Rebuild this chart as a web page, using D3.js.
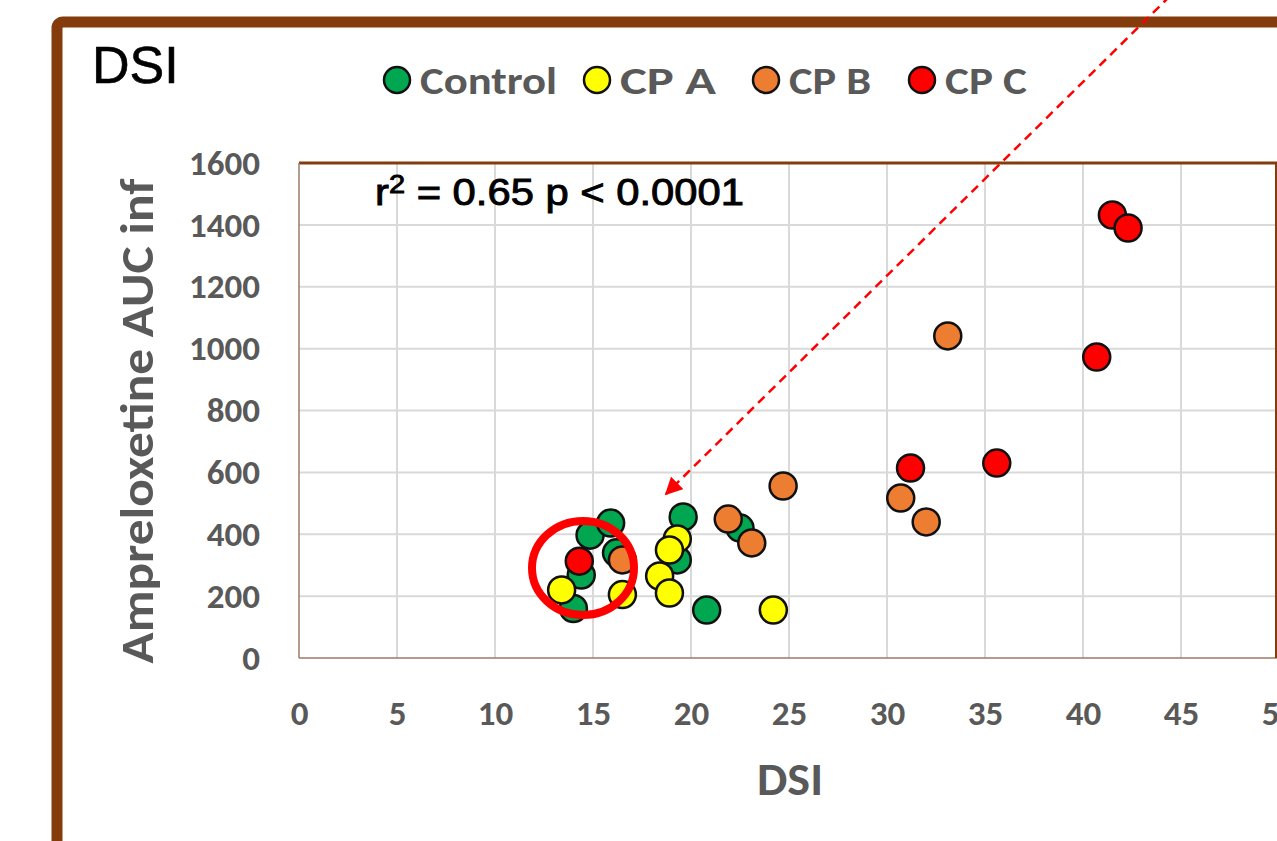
<!DOCTYPE html>
<html>
<head>
<meta charset="utf-8">
<script src="https://cdn.jsdelivr.net/npm/d3@7"></script>
<style>
  body { margin: 0; background: #fff; overflow: hidden; }
  .lab { font-family: Carlito, Calibri, Lato, "Open Sans", sans-serif; font-weight: bold; fill: #595959; }
</style>
</head>
<body>
<svg id="chart" width="1277" height="841"></svg>
<script>
// DSI vs Ampreloxetine AUC inf scatter, four groups

const groups = ['Control', 'CP A', 'CP B', 'CP C'];
const groupColors = ['#00A650', '#FFFF00', '#ED7D31', '#FF0000'];

// [DSI, AUC] pairs
const controlPts = [[14.0, 160], [14.4, 268], [14.85, 397], [15.9, 436], [16.2, 340],
  [19.6, 456], [19.3, 317], [20.8, 155], [22.5, 420]];
const cpAPts = [[13.4, 220], [16.5, 205], [19.3, 385], [18.9, 349], [18.4, 265],
  [18.9, 210], [24.2, 155]];
const cpBPts = [[16.5, 317], [21.9, 449], [23.1, 372], [24.7, 556], [33.1, 1041],
  [30.7, 517], [32.0, 440]];
const cpCPts = [[14.3, 313], [31.2, 614], [35.6, 630], [40.7, 973], [41.5, 1432], [42.3, 1390]];

const xTicks = [0, 5, 10, 15, 20, 25, 30, 35, 40, 45, 50];
const yTicks = [0, 200, 400, 600, 800, 1000, 1200, 1400, 1600];

const svg = d3.select('#chart');
const brown = '#843C0C';

const x = d3.scaleLinear().domain([0, 50]).range([299, 1279]);
const y = d3.scaleLinear().domain([0, 1600]).range([658, 163]);

// outer frame
svg.append('rect')
  .attr('x', 57).attr('y', 22)
  .attr('width', 1300).attr('height', 900)
  .attr('rx', 6)
  .attr('fill', 'none')
  .attr('stroke', brown)
  .attr('stroke-width', 11);

svg.append('text')
  .attr('x', 92).attr('y', 83)
  .style('font-family', 'Liberation Sans, Arial, sans-serif')
  .style('font-size', '52px')
  .attr('stroke', '#000').attr('stroke-width', 0.6)
  .text('DSI');

// gridlines
const grid = svg.append('g');
grid.selectAll('.vx').data(xTicks.slice(1)).enter().append('line')
  .attr('x1', d => x(d)).attr('x2', d => x(d))
  .attr('y1', y(0)).attr('y2', y(1600))
  .attr('stroke', '#D9D9D9').attr('stroke-width', 2);
grid.selectAll('.hy').data(yTicks.slice(1)).enter().append('line')
  .attr('x1', x(0)).attr('x2', x(50))
  .attr('y1', d => y(d)).attr('y2', d => y(d))
  .attr('stroke', '#D9D9D9').attr('stroke-width', 2);

// plot area border
svg.append('line').attr('x1', x(0)).attr('x2', x(50)).attr('y1', y(1600)).attr('y2', y(1600))
  .attr('stroke', brown).attr('stroke-width', 3);
svg.append('line').attr('x1', x(0)).attr('x2', x(0)).attr('y1', y(1600)).attr('y2', y(0))
  .attr('stroke', '#9C7A64').attr('stroke-width', 1.5);
svg.append('line').attr('x1', x(0)).attr('x2', x(50)).attr('y1', y(0)).attr('y2', y(0))
  .attr('stroke', '#9C7A64').attr('stroke-width', 1.5);
svg.append('line').attr('x1', 1276).attr('x2', 1276).attr('y1', y(1600)).attr('y2', y(0))
  .attr('stroke', brown).attr('stroke-width', 2);

// axes
const xAxis = svg.append('g')
  .attr('transform', `translate(0,${y(0) + 55})`)
  .call(d3.axisBottom(x).tickValues(xTicks).tickFormat(d3.format('d')).tickSize(0).tickPadding(0));
xAxis.select('.domain').remove();
xAxis.selectAll('text').attr('class', 'lab').style('font-size', '35px').attr('dy', '0.35em');

const yAxis = svg.append('g')
  .attr('transform', `translate(${x(0) - 39},0)`)
  .call(d3.axisLeft(y).tickValues(yTicks).tickFormat(d3.format('d')).tickSize(0).tickPadding(0));
yAxis.select('.domain').remove();
yAxis.selectAll('text').attr('class', 'lab').style('font-size', '35px');

svg.append('text').attr('class', 'lab')
  .attr('x', 790).attr('y', 795)
  .attr('text-anchor', 'middle')
  .style('font-size', '46px')
  .attr('textLength', 66).attr('lengthAdjust', 'spacingAndGlyphs')
  .text('DSI');

svg.append('text').attr('class', 'lab')
  .attr('transform', 'translate(153,421) rotate(-90)')
  .attr('text-anchor', 'middle')
  .style('font-size', '46px')
  .attr('textLength', 485).attr('lengthAdjust', 'spacingAndGlyphs')
  .text('Ampreloxetine AUC inf');

// legend
const legendX = [397, 597, 766, 922];
const legendW = [137, 96, 82, 82];
const legend = svg.append('g');
groups.forEach((g, i) => {
  legend.append('circle')
    .attr('cx', legendX[i]).attr('cy', 80).attr('r', 13)
    .attr('fill', groupColors[i]).attr('stroke', '#111').attr('stroke-width', 2.5);
  legend.append('text').attr('class', 'lab')
    .attr('x', legendX[i] + 23).attr('y', 94)
    .style('font-size', '39px')
    .attr('textLength', legendW[i]).attr('lengthAdjust', 'spacingAndGlyphs')
    .text(g);
});

// r² annotation (stretched a little sideways like the original)
const r2 = svg.append('text')
  .attr('transform', 'translate(375,205) scale(1.16,1)')
  .style('font-family', 'Liberation Sans, Arial, sans-serif')
  .style('font-size', '36px')
  .attr('stroke', '#000').attr('stroke-width', 0.9);
r2.append('tspan').text('r');
r2.append('tspan').attr('dy', -12).style('font-size', '25px').text('2');
r2.append('tspan').attr('dy', 12).text(' = 0.65 p < 0.0001');

// points
const series = [controlPts, cpAPts, cpBPts, cpCPts];
series.forEach((pts, i) => {
  svg.append('g').selectAll('circle').data(pts).enter().append('circle')
    .attr('cx', d => x(d[0]))
    .attr('cy', d => y(d[1]))
    .attr('r', 13.5)
    .attr('fill', groupColors[i])
    .attr('stroke', '#111')
    .attr('stroke-width', 2.5);
});

// highlight ring
svg.append('ellipse')
  .attr('cx', 583).attr('cy', 568)
  .attr('rx', 51).attr('ry', 47)
  .attr('fill', 'none')
  .attr('stroke', '#FF0000')
  .attr('stroke-width', 8);

// dashed arrow
svg.append('defs').append('marker')
  .attr('id', 'ah')
  .attr('viewBox', '0 0 10 10')
  .attr('refX', 9).attr('refY', 5)
  .attr('markerWidth', 7).attr('markerHeight', 7)
  .attr('orient', 'auto')
  .append('path').attr('d', 'M0,0L10,5L0,10Z').attr('fill', '#FF0000');

svg.append('line')
  .attr('x1', 1170).attr('y1', -4)
  .attr('x2', 666).attr('y2', 494)
  .attr('stroke', '#FF0000')
  .attr('stroke-width', 2.5)
  .attr('stroke-dasharray', '9,6')
  .attr('marker-end', 'url(#ah)');
</script>
</body>
</html>
